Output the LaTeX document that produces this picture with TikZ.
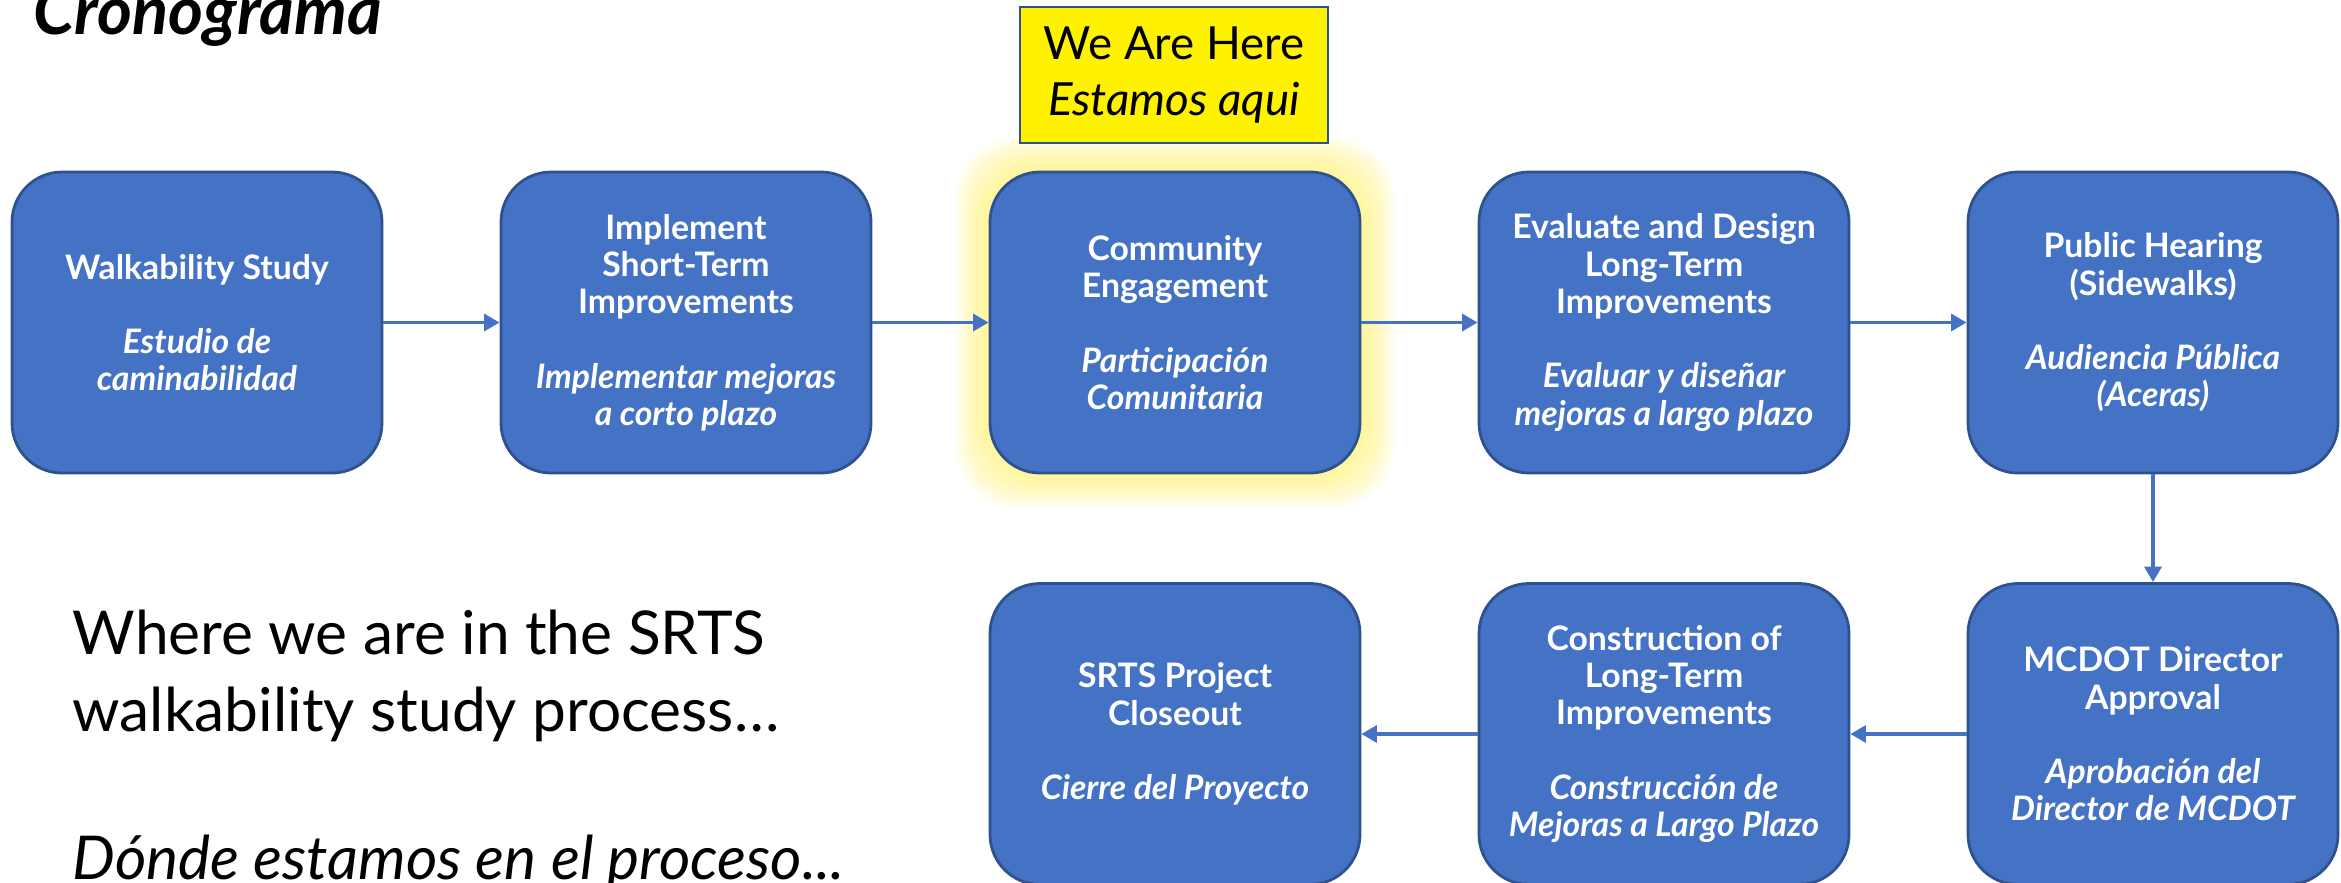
\documentclass[tikz,border=0pt]{standalone}
\usepackage{fontspec}
\setmainfont{Lato}
\usetikzlibrary{arrows.meta,calc,backgrounds}

\definecolor{boxblue}{HTML}{4472C4}
\definecolor{boxline}{HTML}{2F528F}
\definecolor{glowyellow}{HTML}{FFF066}

\begin{document}
\begin{tikzpicture}[>={Triangle[length=4.4pt,width=4.8pt]},
  phase node/.style={rectangle,rounded corners=0.5cm,fill=boxblue,draw=boxline,line width=0.8pt,
    minimum width=3.7cm,minimum height=3.01cm,text=white,align=center,
    font=\fontsize{9.6}{10.6}\selectfont\bfseries},
  flow/.style={color=boxblue,line width=1pt}]

  \useasboundingbox (0,0) rectangle (23.41,8.82);

  \node[anchor=base west,inner sep=0,font=\fontsize{19}{22}\selectfont\bfseries\itshape] (title) at (0.33,8.48) {Cronograma};

  \node[phase node] (walk) at (1.97,5.595) {Walkability Study\\ \\ \itshape Estudio de\\ \itshape caminabilidad};
  \node[phase node] (short) at (6.86,5.595) {Implement\\Short-Term\\Improvements\\ \\ \itshape Implementar mejoras\\ \itshape a corto plazo};
  \node[phase node] (comm) at (11.75,5.595) {Community\\Engagement\\ \\ \itshape Participación\\ \itshape Comunitaria};
  \node[phase node] (design) at (16.64,5.595) {Evaluate and Design\\Long-Term\\Improvements\\ \\ \itshape Evaluar y diseñar\\ \itshape mejoras a largo plazo};
  \node[phase node] (hear) at (21.53,5.595) {Public Hearing\\(Sidewalks)\\ \\ \itshape Audiencia Pública\\ \itshape (Aceras)};
  \node[phase node] (mcdot) at (21.53,1.48) {MCDOT Director\\Approval\\ \\ \itshape Aprobación del\\ \itshape Director de MCDOT};
  \node[phase node] (build) at (16.64,1.48) {Construction of\\Long-Term\\Improvements\\ \\ \itshape Construcción de\\ \itshape Mejoras a Largo Plazo};
  \node[phase node] (close) at (11.75,1.48) {SRTS Project\\Closeout\\ \\ \itshape Cierre del Proyecto};

  \node[draw=boxline,fill=yellow,line width=0.6pt,minimum width=3.08cm,minimum height=1.36cm,
    align=center,font=\fontsize{13}{16}\selectfont] (here) at (11.74,8.07) {We Are Here\\ \itshape Estamos aqui};

  \node[anchor=base west,align=left,inner sep=0,font=\fontsize{17.2}{22}\selectfont] (where) at (0.72,0.03)
    {Where we are in the SRTS\\walkability study process…\\[20pt] \itshape Dónde estamos en el proceso...};

  % glow round the current step
  \begin{scope}[on background layer]
    \foreach \g in {1,...,11}
      \fill[glowyellow,opacity=0.085,rounded corners=0.6cm]
        ($(comm.south west)+(-\g*0.03,-\g*0.03)$) rectangle ($(comm.north east)+(\g*0.03,\g*0.03)$);
  \end{scope}

  \path[flow,->]
    (walk) edge (short)
    (short) edge (comm)
    (comm) edge (design)
    (design) edge (hear)
    (hear) edge (mcdot)
    (mcdot) edge (build)
    (build) edge (close)
    ;

\end{tikzpicture}
\end{document}
